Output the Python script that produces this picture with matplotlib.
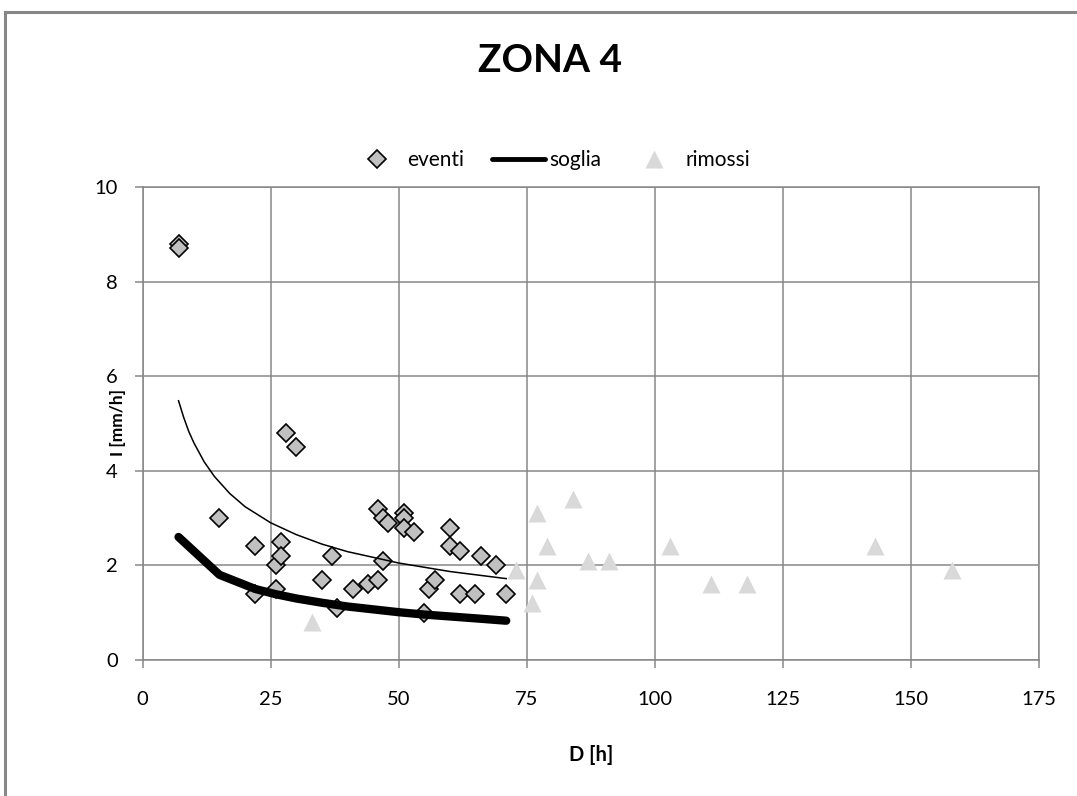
import matplotlib
matplotlib.use('Agg')
import matplotlib.pyplot as plt
from matplotlib.lines import Line2D
import numpy as np

plt.rcParams['font.family'] = ['Lato', 'DejaVu Sans']

# eventi: durata D [h], intensita' I [mm/h]
eventi_d = [7, 7, 15, 22, 22, 26, 26, 27, 27, 28, 30, 35, 37, 38, 41, 44, 46, 46,
            47, 47, 48, 51, 51, 51, 53, 55, 56, 57, 60, 60, 62, 62, 65, 66, 69, 71]
eventi_i = [8.8, 8.7, 3.0, 2.4, 1.4, 2.0, 1.5, 2.5, 2.2, 4.8, 4.5, 1.7, 2.2, 1.1, 1.5, 1.6, 3.2, 1.7,
            3.0, 2.1, 2.9, 3.1, 3.0, 2.8, 2.7, 1.0, 1.5, 1.7, 2.8, 2.4, 2.3, 1.4, 1.4, 2.2, 2.0, 1.4]

# eventi rimossi
rimossi_d = [33, 73, 76, 77, 77, 79, 84, 87, 91, 103, 111, 118, 143, 158]
rimossi_i = [0.8, 1.9, 1.2, 3.1, 1.7, 2.4, 3.4, 2.1, 2.1, 2.4, 1.6, 1.6, 2.4, 1.9]

# soglia
soglia_d = [7, 15, 22, 26, 30, 35, 40, 45, 50, 55, 60, 65, 71]
soglia_i = [2.60, 1.80, 1.50, 1.39, 1.30, 1.21, 1.13, 1.07, 1.01, 0.96, 0.92, 0.88, 0.83]

# linea di tendenza (potenza) sugli eventi
trend_d = [7, 8, 9, 10, 12, 14, 17, 20, 25, 30, 35, 40, 50, 60, 71]
trend_i = [5.48, 5.13, 4.83, 4.59, 4.19, 3.88, 3.52, 3.24, 2.90, 2.65, 2.45, 2.29, 2.05, 1.87, 1.72]

xticks = [0, 25, 50, 75, 100, 125, 150, 175]
yticks = [0, 2, 4, 6, 8, 10]

grey = '#878787'

fig = plt.figure(figsize=(10.77, 7.96), dpi=100)
ax = fig.add_axes([0.1325, 0.1709, 0.8319, 0.5942])

ax.plot(eventi_d, eventi_i, 'D', ms=9.5, mfc='#c0c0c0', mec='black', mew=1.2,
        label='eventi', zorder=3)
ax.plot(soglia_d, soglia_i, '-', color='black', lw=6, solid_capstyle='round',
        solid_joinstyle='round', label='soglia', zorder=4)
ax.plot(rimossi_d, rimossi_i, '^', ms=13, mfc='#d9d9d9', mec='none',
        label='rimossi', zorder=5)
ax.plot(trend_d, trend_i, '-', color='black', lw=1.1, zorder=6)

ax.set_xlim(0, 175)
ax.set_ylim(0, 10)
ax.set_xticks(xticks)
ax.set_yticks(yticks)
ax.grid(True, color=grey, lw=1.1)
ax.set_axisbelow(True)
for s in ax.spines.values():
    s.set_color(grey)
    s.set_linewidth(1.1)
ax.tick_params(axis='both', direction='out', length=6, width=1.1, color=grey,
               labelsize=14.5)
ax.tick_params(axis='x', pad=16)
ax.tick_params(axis='y', pad=12)

leg = ax.legend(loc='center', bbox_to_anchor=(0.5107, 0.799),
                bbox_transform=fig.transFigure, ncol=3, frameon=False,
                fontsize=15, handlelength=2.55, handletextpad=0.2,
                columnspacing=1.3)
leg.get_lines()[1].set_linewidth(3.5)

fig.text(0.511, 0.924, 'ZONA 4', ha='center', va='center',
         fontsize=28, fontweight='bold')
fig.text(0.5487, 0.0515, 'D [h]', ha='center', va='center',
         fontsize=14.5, fontweight='bold')
fig.text(0.1096, 0.4686, 'I [mm/h]', ha='center', va='center', rotation=90,
         fontsize=12.5, fontweight='bold')

# cornice del grafico
fig.add_artist(Line2D([0.0049, 0.0049], [0, 0.985], transform=fig.transFigure,
                      color=grey, lw=2.2))
fig.add_artist(Line2D([0.0049, 1.0], [0.985, 0.985], transform=fig.transFigure,
                      color=grey, lw=2.2))

fig.savefig('out.png', dpi=100)
